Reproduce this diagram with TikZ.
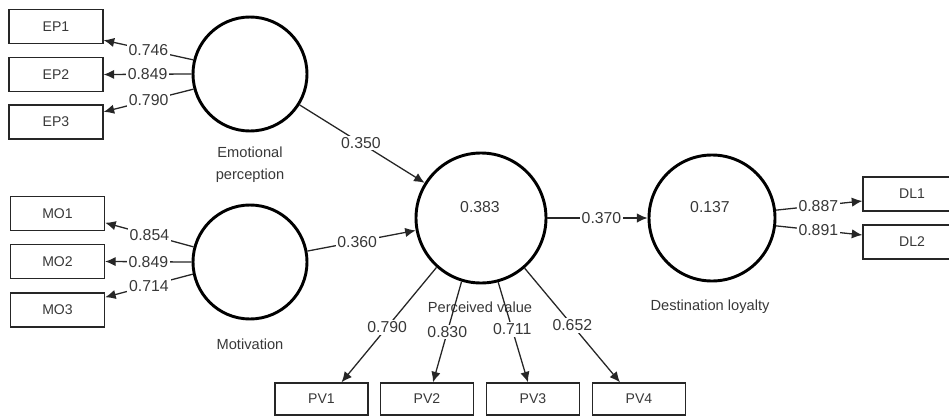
\documentclass[tikz,border=0pt]{standalone}
\usepackage{fontspec}
\setmainfont{Liberation Sans}
\usetikzlibrary{arrows.meta,calc}
\definecolor{ink}{HTML}{262626}
\definecolor{txt}{HTML}{383838}
\begin{document}
\begin{tikzpicture}[x=0.03cm,y=-0.03cm,
  every node/.style={font=\fontsize{12.5}{14}\selectfont, text=txt},
  ind/.style={draw=ink, line width=1.1pt, minimum width=2.82cm, minimum height=1.02cm, inner sep=0pt, font=\fontsize{12}{13}\selectfont},
  pvbox/.style={ind, minimum width=2.79cm, minimum height=0.96cm},
  dlbox/.style={ind, minimum width=2.94cm},
  lat/.style={circle, draw=black, line width=2.5pt, inner sep=0pt},
  arr/.style={draw=ink, line width=1.1pt, -{Latex[length=9pt,width=8pt]}},
  num/.style={fill=white, inner sep=1.5pt, font=\fontsize{13.5}{15}\selectfont}
]
\useasboundingbox (0,0) rectangle (949,417);

% indicator boxes
\node[ind] (ep1) at (56,26.5) {EP1};
\node[ind] (ep2) at (56,74.5) {EP2};
\node[ind] (ep3) at (56,122) {EP3};
\node[ind] (mo1) at (57.5,213.5) {MO1};
\node[ind] (mo2) at (57.5,261.5) {MO2};
\node[ind] (mo3) at (57.5,310) {MO3};
\node[pvbox] (pv1) at (321.5,399) {PV1};
\node[pvbox] (pv2) at (427,399) {PV2};
\node[pvbox] (pv3) at (533,399) {PV3};
\node[pvbox] (pv4) at (639,399) {PV4};
\node[dlbox] (dl1) at (912,194) {DL1};
\node[dlbox] (dl2) at (912,242) {DL2};

% latent variables
\node[lat, minimum size=3.42cm] (ep) at (250,74) {};
\node[lat, minimum size=3.42cm] (mo) at (250,262) {};
\node[lat, minimum size=3.9cm] (pv) at (481,218) {};
\node[lat, minimum size=3.78cm] (dl) at (712,218) {};

\node[font=\fontsize{13.5}{15}\selectfont] (pvr) at (480,207) {0.383};
\node[font=\fontsize{13.5}{15}\selectfont] (dlr) at (710,207) {0.137};

\node[align=center, font=\fontsize{12.5}{19}\selectfont] (eplab) at (250,165) {Emotional\\perception};
\node (molab) at (250,344) {Motivation};
\node (pvlab) at (480,307) {Perceived value};
\node (dllab) at (710,307) {Destination loyalty};

% outer loadings
\draw[arr] (ep.166) -- node[num,pos=.5]{0.746} (ep1.-16);
\draw[arr] (ep.180) -- node[num,pos=.5]{0.849} (ep2.east);
\draw[arr] (ep.195) -- node[num,pos=.5]{0.790} (ep3.12);
\draw[arr] (mo.165) -- node[num,pos=.5]{0.854} (mo1.-11);
\draw[arr] (mo.180) -- node[num,pos=.5]{0.849} (mo2.east);
\draw[arr] (mo.192) -- node[num,pos=.5]{0.714} (mo3.15);
\draw[arr] (pv.228.5) -- node[num,pos=.52]{0.790} ($(pv1.north)+(20,0)$);
\draw[arr] (pv.253) -- node[num,pos=.5]{0.830} ($(pv2.north)+(6,0)$);
\draw[arr] (pv.285) -- node[num,pos=.47]{0.711} ($(pv3.north)+(-5,0)$);
\draw[arr] (pv.311) -- node[num,pos=.5]{0.652} ($(pv4.north)+(-19,0)$);
\draw[arr] (dl.7) -- node[num,pos=.49]{0.887} ($(dl1.west)+(0,7)$);
\draw[arr] (dl.-7) -- node[num,pos=.49]{0.891} ($(dl2.west)+(0,-7)$);

% structural paths
\draw[arr] (ep) -- node[num,pos=.49]{0.350} (pv);
\draw[arr] (mo) -- node[num,pos=.46]{0.360} (pv);
\draw[arr] (pv) -- node[num,pos=.54]{0.370} (dl);
\end{tikzpicture}
\end{document}
